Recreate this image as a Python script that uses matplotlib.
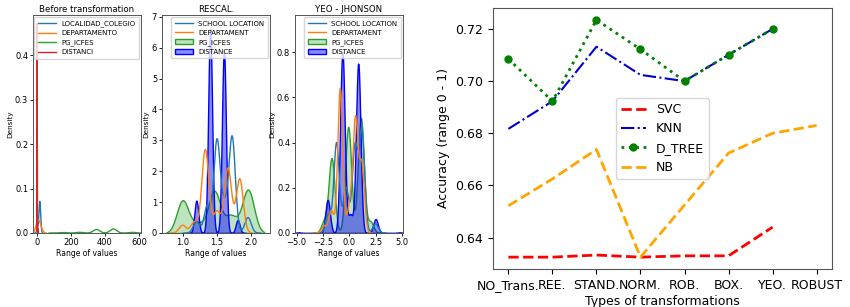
import numpy as np
import matplotlib
matplotlib.use("Agg")
import matplotlib.pyplot as plt
import seaborn as sns

# ---- right panel: accuracy per transformation ----
transforms = ["NO_Trans.", "REE.", "STAND.", "NORM.", "ROB.", "BOX.", "YEO.", "ROBUST"]
acc_svc = [0.6325, 0.6325, 0.6333, 0.6325, 0.633, 0.633, 0.644]
acc_knn = [0.6817, 0.6923, 0.7132, 0.7024, 0.700, 0.7101, 0.720]
acc_tree = [0.7085, 0.6923, 0.7235, 0.7122, 0.700, 0.7101, 0.720]
acc_nb = [0.6522, 0.6625, 0.6738, 0.6325, 0.6525, 0.6724, 0.680, 0.683]

# ---- left panels: density curves, given as values and relative weights ----
# before transformation
raw_loc_vals, raw_loc_w = [3, 16], [0.01, 0.071]
raw_dep_vals, raw_dep_w = [4, 18], [0.022, 0.012]
raw_pg_vals = [150, 250, 350, 450, 560]
raw_pg_w = [0.0012, 0.0015, 0.008, 0.009, 0.0015]
raw_dist_vals, raw_dist_w = [0, 6], [0.47, 0.01]

# rescaled
res_loc_vals = [1.2, 1.36, 1.5, 1.61, 1.72, 1.95]
res_loc_w = [0.35, 0.9, 3.0, 0.8, 3.1, 0.5]
res_dep_vals = [1.0, 1.17, 1.33, 1.5, 1.66, 1.83]
res_dep_w = [0.25, 0.35, 2.7, 0.7, 2.1, 1.75]
res_pg_vals = [1.0, 1.22, 1.46, 1.7, 1.95]
res_pg_w = [1.05, 0.3, 1.35, 0.55, 1.4]
res_dist_vals = [1.2, 1.4, 1.6, 1.8]
res_dist_w = [1.05, 6.6, 5.9, 0.42]

# yeo-johnson
yeo_loc_vals = [-2.0, -1.2, -0.3, 0.55, 1.2, 2.5]
yeo_loc_w = [0.08, 0.4, 0.2, 0.38, 0.45, 0.04]
yeo_dep_vals = [-2.4, -1.7, -0.85, 0.05, 0.6, 1.2]
yeo_dep_w = [0.03, 0.1, 0.64, 0.12, 0.5, 0.3]
yeo_pg_vals = [-2.4, -1.68, -0.1, 1.1, 2.0]
yeo_pg_w = [0.05, 0.33, 0.47, 0.51, 0.05]
yeo_dist_vals = [-4.8, -2.05, -0.65, 0.1, 0.85, 2.5, 4.8]
yeo_dist_w = [0.002, 0.147, 0.8, 0.08, 0.75, 0.062, 0.002]


def kde(ax, vals, wts, color, label, fill=False, alpha=0.3):
    # bandwidth chosen so each peak's height is close to its weight
    vals = np.asarray(vals, float)
    wts = np.asarray(wts, float)
    bw = 1.0 / (np.sqrt(2 * np.pi) * wts.sum())
    std = np.sqrt(np.cov(vals, aweights=wts))
    kws = dict(x=vals, weights=wts, bw_method=bw / std, gridsize=1000,
               color=color, label=label, ax=ax, linewidth=1.0)
    if fill:
        kws.update(fill=True, alpha=alpha)
    sns.kdeplot(**kws)


fig = plt.figure(figsize=(8.5, 3.07), dpi=100)

panels = [
    ("Before transformation", 33, (-24, 612), (0, 0.49),
     ["LOCALIDAD_COLEGIO", "DEPARTAMENTO", "PG_ICFES", "DISTANCi"],
     [(raw_loc_vals, raw_loc_w), (raw_dep_vals, raw_dep_w),
      (raw_pg_vals, raw_pg_w), (raw_dist_vals, raw_dist_w)],
     False, [0, 200, 400, 600]),
    ("RESCAL.", 162, (0.70, 2.27), (0, 7.06),
     ["SCHOOL LOCATION", "DEPARTAMENT", "PG_ICFES", "DISTANCE"],
     [(res_loc_vals, res_loc_w), (res_dep_vals, res_dep_w),
      (res_pg_vals, res_pg_w), (res_dist_vals, res_dist_w)],
     True, [1.0, 1.5, 2.0]),
    ("YEO - JHONSON", 295, (-5.15, 5.1), (0, 0.965),
     ["SCHOOL LOCATION", "DEPARTAMENT", "PG_ICFES", "DISTANCE"],
     [(yeo_loc_vals, yeo_loc_w), (yeo_dep_vals, yeo_dep_w),
      (yeo_pg_vals, yeo_pg_w), (yeo_dist_vals, yeo_dist_w)],
     True, [-5.0, -2.5, 0.0, 2.5, 5.0]),
]

for title, left_px, xlim, ylim, names, series, filled, xt in panels:
    ax = fig.add_axes([left_px / 850, 74 / 307, 108 / 850, 218 / 307])
    colors = ["tab:blue", "tab:orange", "tab:green", "tab:red"]
    for i, ((v, w), name) in enumerate(zip(series, names)):
        if filled and i == 2:
            kde(ax, v, w, "tab:green", name, fill=True, alpha=0.3)
        elif filled and i == 3:
            kde(ax, v, w, "blue", name, fill=True, alpha=0.45)
        else:
            kde(ax, v, w, colors[i], name)
    ax.set_xlim(*xlim)
    ax.set_ylim(*ylim)
    ax.set_xticks(xt)
    ax.set_title(title, fontsize=6.2, pad=2)
    ax.set_xlabel("Range of values", fontsize=5.5, labelpad=1.5)
    ax.set_ylabel("Density", fontsize=5.2, labelpad=1.5)
    ax.tick_params(labelsize=6, length=2, width=0.6, pad=1.5)
    for s in ax.spines.values():
        s.set_linewidth(0.7)
        s.set_color("#555555")
    ax.legend(loc="upper right", fontsize=5, handlelength=2.6,
              borderpad=0.5, labelspacing=0.45, framealpha=0.8,
              borderaxespad=0.3)

# ---- right chart ----
ax = fig.add_axes([493 / 850, 38 / 307, 339 / 850, 261 / 307])
xs_short = np.arange(len(acc_svc))
xs_full = np.arange(len(acc_nb))
ax.plot(xs_short, acc_svc, "--", color="red", lw=2, label="SVC")
ax.plot(xs_short, acc_knn, "-.", color="mediumblue", lw=1.5, label="KNN")
ax.plot(xs_short, acc_tree, ":", color="green", lw=2, marker="o", ms=5, label="D_TREE")
ax.plot(xs_full, acc_nb, "--", color="orange", lw=2, label="NB")
ax.set_xticks(xs_full)
ax.set_xticklabels(transforms)
ax.set_yticks([0.64, 0.66, 0.68, 0.70, 0.72])
ax.tick_params(labelsize=9)
ax.set_xlabel("Types of transformations", fontsize=9, labelpad=2)
ax.set_ylabel("Accuracy (range 0 - 1)", fontsize=9)
for s in ax.spines.values():
    s.set_color("#555555")
ax.legend(loc="center", fontsize=9)

fig.savefig("out.png", dpi=100)
